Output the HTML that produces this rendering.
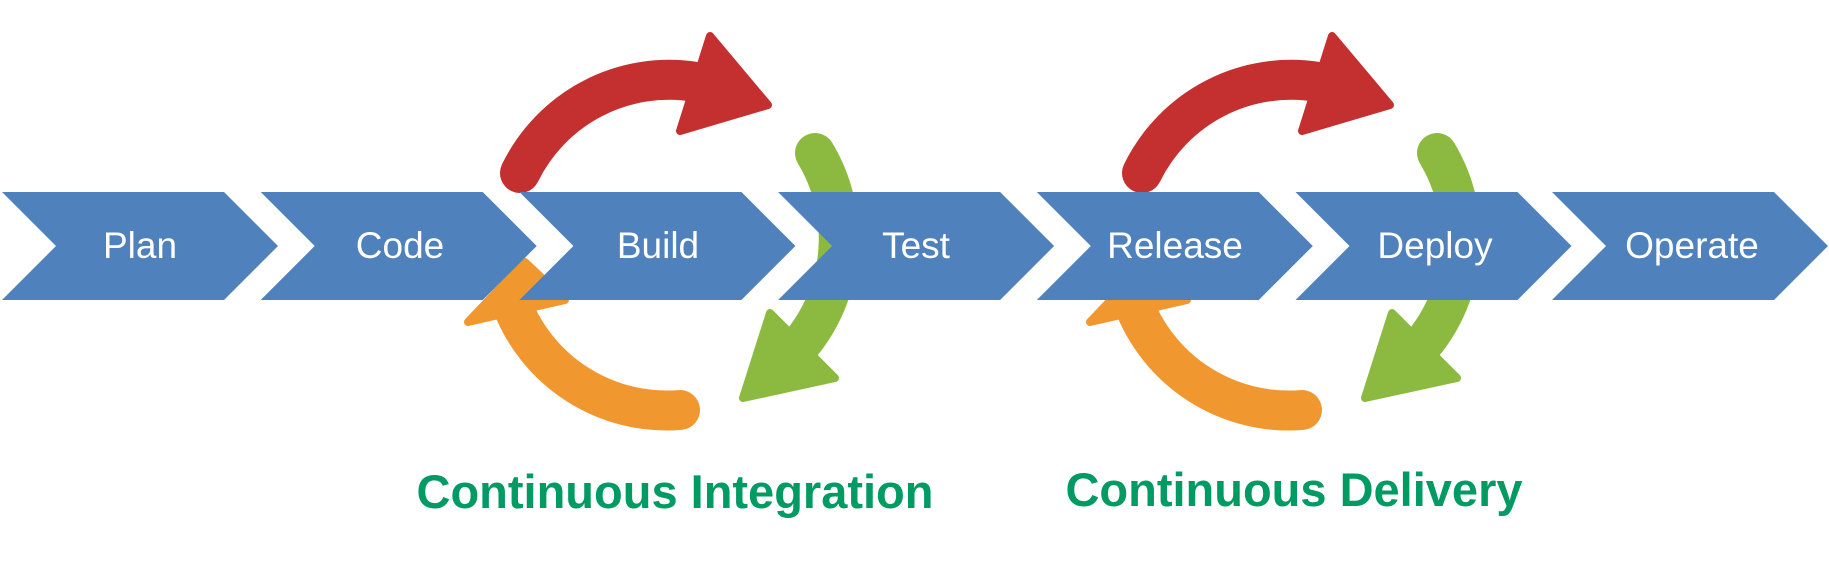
<!DOCTYPE html>
<html><head><meta charset="utf-8"><style>
html,body{margin:0;padding:0;background:#fff;}
svg{display:block}
</style></head><body>
<svg width="1829" height="570" viewBox="0 0 1829 570" xmlns="http://www.w3.org/2000/svg">
<defs>
<g id="cyc">
  <path d="M520,173 A166,166 0 0 1 696,82" fill="none" stroke="#C3302F" stroke-width="40" stroke-linecap="round"/>
  <polygon points="710,36 768,105 680,131" fill="#C3302F" stroke="#C3302F" stroke-width="8" stroke-linejoin="round"/>
  <path d="M680,410 A166,166 0 0 1 511,302" fill="none" stroke="#F19730" stroke-width="40" stroke-linecap="round"/>
  <polygon points="468,322 565,300 525,262" fill="#F19730" stroke="#F19730" stroke-width="8" stroke-linejoin="round"/>
  <path d="M815,153 A166,166 0 0 1 794,352" fill="none" stroke="#8CBA40" stroke-width="40" stroke-linecap="round"/>
  <polygon points="770,313 835,378 743,398" fill="#8CBA40" stroke="#8CBA40" stroke-width="8" stroke-linejoin="round"/>
</g>
<polygon id="chev" points="0,0 222,0 276,54 222,108 0,108 54,54" fill="#4F81BD"/>
</defs>
<use href="#cyc"/>
<use href="#cyc" transform="translate(622,0)"/>
<g transform="translate(0,192)">
<use href="#chev" x="2"/>
<use href="#chev" x="260.7"/>
<use href="#chev" x="519.4"/>
<use href="#chev" x="778.1"/>
<use href="#chev" x="1036.8"/>
<use href="#chev" x="1295.5"/>
<use href="#chev" x="1552"/>
</g>
<g font-family="Liberation Sans, sans-serif" font-size="37" fill="#fff" text-anchor="middle">
<text x="140" y="258">Plan</text>
<text x="400" y="258">Code</text>
<text x="658" y="258">Build</text>
<text x="916" y="258">Test</text>
<text x="1175" y="258">Release</text>
<text x="1435" y="258">Deploy</text>
<text x="1692" y="258">Operate</text>
</g>
<g font-family="Liberation Sans, sans-serif" font-size="47" font-weight="bold" fill="#009A63" text-anchor="middle">
<text x="675" y="508">Continuous Integration</text>
<text x="1294" y="506">Continuous Delivery</text>
</g>
</svg>
</body></html>
